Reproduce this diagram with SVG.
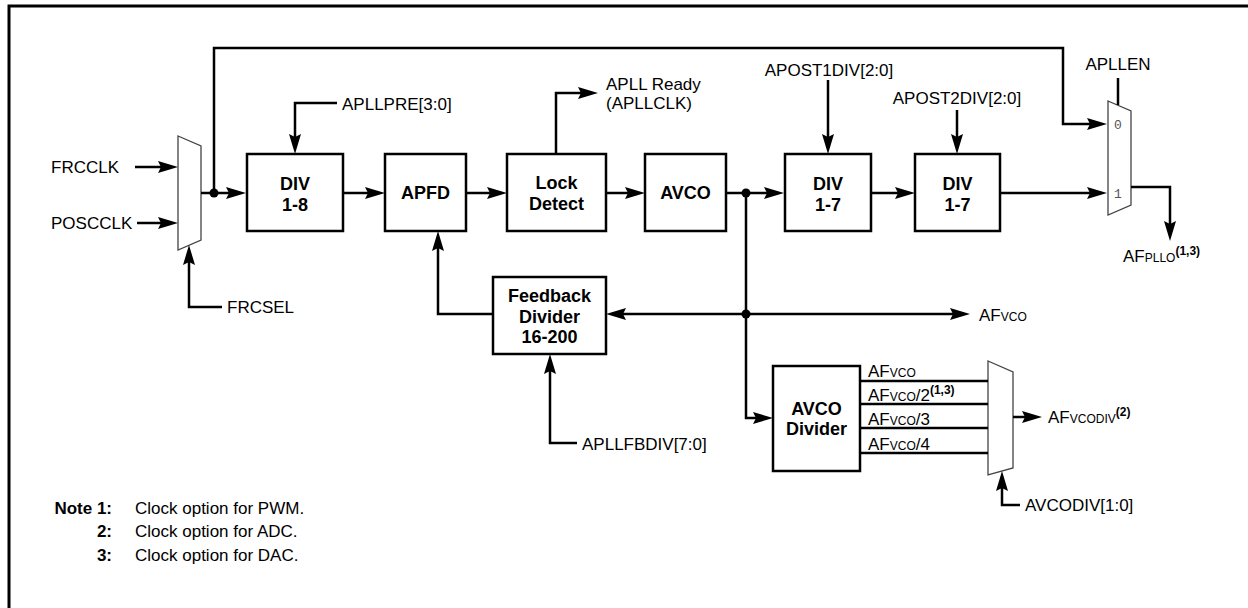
<svg xmlns="http://www.w3.org/2000/svg" width="1248" height="608" viewBox="0 0 1248 608">
<style>
.frame{fill:none;stroke:#000;stroke-width:3}
.box{fill:#fff;stroke:#000;stroke-width:2.5}
.mux{fill:#fff;stroke:#444;stroke-width:1.3}
.wire{fill:none;stroke:#000;stroke-width:2.5}
.arr{marker-end:url(#ah)}
.dot{fill:#000}
text{font-family:"Liberation Sans",Arial,Helvetica,sans-serif;fill:#000}
.lbl{font-size:17px}
.sc{font-size:12px}
.sup{font-size:12px;font-weight:bold}
.bl{font-size:18px;font-weight:bold;text-anchor:middle}
.mid{text-anchor:middle}
.sel{font-family:"Liberation Mono","DejaVu Sans Mono",monospace;font-size:13px;fill:#555}
.note{font-size:17px}
.nb{font-size:17px;font-weight:bold;text-anchor:end}
</style>
<defs>
<marker id="ah" markerUnits="userSpaceOnUse" markerWidth="22" markerHeight="14" viewBox="0 -7 22 14" refX="10" refY="0" orient="auto">
<path d="M0,-6 L20,0 L0,6 L3,0 Z" fill="#000"/>
</marker>
</defs>
<path class="frame" d="M9,608 V6 H1248"/>

<g id="mux_in">
<polygon class="mux" points="178,136 201,146 201,240 178,250"/>
</g>
<g id="div18">
<rect class="box" x="247" y="154" width="96" height="77"/>
<text class="bl" x="295" y="190">DIV</text>
<text class="bl" x="295" y="211">1-8</text>
</g>
<g id="apfd">
<rect class="box" x="385" y="154" width="81" height="77"/>
<text class="bl" x="425.5" y="199">APFD</text>
</g>
<g id="lock">
<rect class="box" x="507" y="154" width="99" height="77"/>
<text class="bl" x="556.5" y="189">Lock</text>
<text class="bl" x="556.5" y="210">Detect</text>
</g>
<g id="avco">
<rect class="box" x="645" y="154" width="81" height="77"/>
<text class="bl" x="685.5" y="199">AVCO</text>
</g>
<g id="div17a">
<rect class="box" x="785" y="154" width="86" height="77"/>
<text class="bl" x="828" y="190">DIV</text>
<text class="bl" x="828" y="211">1-7</text>
</g>
<g id="div17b">
<rect class="box" x="915" y="154" width="85" height="77"/>
<text class="bl" x="957.5" y="190">DIV</text>
<text class="bl" x="957.5" y="211">1-7</text>
</g>
<g id="mux_out">
<polygon class="mux" points="1108,101 1131,111 1131,205 1108,215"/>
<text class="sel" x="1114" y="129">0</text>
<text class="sel" x="1114" y="198">1</text>
</g>
<g id="fbdiv">
<rect class="box" x="493" y="277" width="113" height="77"/>
<text class="bl" x="549.5" y="302">Feedback</text>
<text class="bl" x="549.5" y="323">Divider</text>
<text class="bl" x="549.5" y="343">16-200</text>
</g>
<g id="avcodiv">
<rect class="box" x="773" y="366" width="87" height="105"/>
<text class="bl" x="816.5" y="415">AVCO</text>
<text class="bl" x="816.5" y="435">Divider</text>
</g>
<g id="mux_div">
<polygon class="mux" points="988,361 1013,372 1013,468 988,475"/>
</g>

<g id="connectors">
<path class="wire arr" d="M135,167 H168"/>
<path class="wire arr" d="M137,223 H168"/>
<path class="wire arr" d="M201,193 H236"/>
<path class="wire arr" d="M214,193 V48 H1063 V124 H1097"/>
<path class="wire arr" d="M222,307 H189 V255"/>
<path class="wire arr" d="M337,103 H295 V144"/>
<path class="wire arr" d="M343,193 H375"/>
<path class="wire arr" d="M466,193 H497"/>
<path class="wire arr" d="M556,154 V93 H588"/>
<path class="wire arr" d="M606,193 H635"/>
<path class="wire arr" d="M726,193 H774"/>
<path class="wire arr" d="M828,80 V144"/>
<path class="wire arr" d="M871,193 H905"/>
<path class="wire arr" d="M957,110 V144"/>
<path class="wire arr" d="M1000,193 H1097"/>
<path class="wire" d="M1118,78 V105"/>
<path class="wire arr" d="M1131,187 H1170 V231"/>
<path class="wire arr" d="M493,314 H438 V241"/>
<path class="wire arr" d="M746,314 H616"/>
<path class="wire arr" d="M746,314 H960"/>
<path class="wire arr" d="M746,193 V418 H763"/>
<path class="wire arr" d="M577,443 H550 V364"/>
<path class="wire" d="M860,381 H988 M860,404 H988 M860,428 H988 M860,453 H988"/>
<path class="wire arr" d="M1013,417 H1032"/>
<path class="wire arr" d="M1020,505 H1002 V481"/>
<circle class="dot" cx="214" cy="193" r="4.5"/>
<circle class="dot" cx="746" cy="193" r="4.5"/>
<circle class="dot" cx="746" cy="314" r="4.5"/>
</g>

<g id="labels">
<text class="lbl" x="51" y="173">FRCCLK</text>
<text class="lbl" x="51" y="229">POSCCLK</text>
<text class="lbl" x="227" y="313">FRCSEL</text>
<text class="lbl" x="342" y="110">APLLPRE[3:0]</text>
<text class="lbl" x="606" y="90" font-size="16">APLL Ready</text>
<text class="lbl" x="606" y="109" font-size="16">(APLLCLK)</text>
<text class="lbl mid" x="829" y="76">APOST1DIV[2:0]</text>
<text class="lbl mid" x="957" y="104">APOST2DIV[2:0]</text>
<text class="lbl mid" x="1118" y="70">APLLEN</text>
<text class="lbl" x="1123" y="262">AF<tspan class="sc">PLLO</tspan><tspan class="sup" dy="-7">(1,3)</tspan></text>
<text class="lbl" x="979" y="321">AF<tspan class="sc">VCO</tspan></text>
<text class="lbl" x="582" y="450">APLLFBDIV[7:0]</text>
<text class="lbl" x="868" y="377">AF<tspan class="sc">VCO</tspan></text>
<text class="lbl" x="868" y="401">AF<tspan class="sc">VCO</tspan>/2<tspan class="sup" dy="-7">(1,3)</tspan></text>
<text class="lbl" x="868" y="425">AF<tspan class="sc">VCO</tspan>/3</text>
<text class="lbl" x="868" y="450">AF<tspan class="sc">VCO</tspan>/4</text>
<text class="lbl" x="1048" y="423">AF<tspan class="sc">VCODIV</tspan><tspan class="sup" dy="-7">(2)</tspan></text>
<text class="lbl" x="1025" y="511">AVCODIV[1:0]</text>
</g>

<g id="notes">
<text class="nb" x="112" y="514">Note 1:</text>
<text class="nb" x="112" y="537">2:</text>
<text class="nb" x="112" y="561">3:</text>
<text class="note" x="135" y="514">Clock option for PWM.</text>
<text class="note" x="135" y="537">Clock option for ADC.</text>
<text class="note" x="135" y="561">Clock option for DAC.</text>
</g>
</svg>
